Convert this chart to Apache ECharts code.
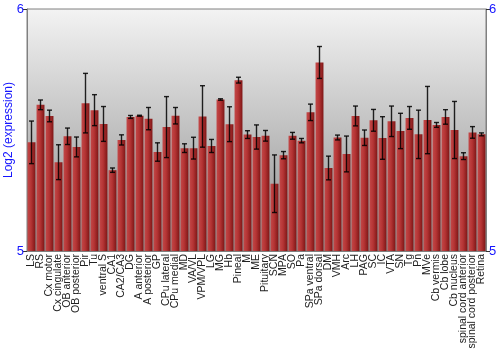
<!DOCTYPE html>
<html>
<head>
<meta charset="utf-8">
<script src="https://cdn.jsdelivr.net/npm/echarts@6/dist/echarts.min.js"></script>
<style>html,body{margin:0;padding:0;background:#fff}#c{width:500px;height:350px}</style>
</head>
<body>
<div id="c"></div>
<script>
const categories = ["LS","RS","Cx motor","Cx cingulate","OB anterior","OB posterior","Pir","Tu","ventral S","CA1","CA2/CA3","DG","A anterior","A posterior","GP","CPu lateral","CPu medial","MD","VA/VL","VPM/VPL","LG","MG","Hb","Pineal","M","ME","Pituitary","SCN","MPA","SO","Pa","SPa ventral","SPa dorsal","DM","VMH","Arc","LH","PAG","SC","IC","VTA","SN","Tg","Pn","MVe","Cb vermis","Cb lobe","Cb nucleus","spinal cord anterior","spinal cord posterior","Retina"];
const values = [5.449,5.604,5.558,5.367,5.474,5.430,5.611,5.582,5.525,5.334,5.459,5.554,5.559,5.547,5.409,5.512,5.559,5.425,5.425,5.556,5.434,5.626,5.524,5.706,5.481,5.471,5.476,5.278,5.396,5.476,5.456,5.573,5.779,5.343,5.469,5.401,5.558,5.468,5.540,5.467,5.536,5.496,5.550,5.482,5.541,5.521,5.554,5.500,5.392,5.490,5.482];
const errors = [0.088,0.020,0.024,0.072,0.034,0.041,0.123,0.064,0.072,0.009,0.021,0.006,0.002,0.046,0.038,0.126,0.034,0.018,0.045,0.127,0.027,0.003,0.072,0.012,0.016,0.050,0.022,0.119,0.015,0.014,0.009,0.034,0.066,0.049,0.010,0.074,0.041,0.032,0.045,0.088,0.063,0.073,0.047,0.100,0.139,0.010,0.030,0.118,0.014,0.024,0.006];
const yTicks = [5, 6];

const chart = echarts.init(document.getElementById('c'), null, {renderer:'canvas'});
const errData = values.map((v,i)=>[i, v - errors[i], v + errors[i]]);
const yAxisCommon = {
  type:'value', min:yTicks[0], max:yTicks[1], interval:1,
  axisLine:{show:true, lineStyle:{color:'#808080', width:1}},
  axisTick:{show:true, length:4, lineStyle:{color:'#333'}},
  splitLine:{show:false},
  axisLabel:{color:'#1515ff', fontSize:13, fontFamily:'Liberation Sans, Arial', margin:3}
};
chart.setOption({
  animation:false,
  grid:{left:27, right:14, top:9, bottom:99, show:true, containLabel:false, outerBoundsMode:'none',
    borderColor:'#808080', borderWidth:1,
    backgroundColor:{type:'linear',x:0,y:0,x2:0,y2:1,colorStops:[{offset:0,color:'#f3f3f3'},{offset:1,color:'#8e8e8e'}]}},
  xAxis:{type:'category', data:categories,
    axisLine:{show:true, lineStyle:{color:'#808080'}},
    axisTick:{show:false},
    axisLabel:{interval:0, rotate:90, fontSize:10.5, color:'#222', fontFamily:'Liberation Sans, Arial', margin:3}},
  yAxis:[
    Object.assign({}, yAxisCommon, {position:'left', name:'Log2 (expression)', nameLocation:'middle', nameGap:12, nameRotate:90,
      nameMoveOverlap:false,
      nameTextStyle:{color:'#1515ff', fontSize:12, fontFamily:'Liberation Sans, Arial'}}),
    Object.assign({}, yAxisCommon, {position:'right'})
  ],
  series:[
    {type:'bar', data:values, barCategoryGap:'12%',
      itemStyle:{color:{type:'linear',x:0,y:0,x2:1,y2:0,colorStops:[
        {offset:0,color:'#c24848'},{offset:0.45,color:'#b53434'},{offset:1,color:'#7e1616'}]}}},
    {type:'custom', data:errData, z:10,
      renderItem:function(params, api){
        const x = api.value(0);
        const lo = api.coord([x, api.value(1)]);
        const hi = api.coord([x, api.value(2)]);
        const cw = 2.5;
        const st = {stroke:'rgba(0,0,0,0.85)', lineWidth:1.4};
        return {type:'group', children:[
          {type:'line', shape:{x1:lo[0], y1:lo[1], x2:hi[0], y2:hi[1]}, style:st},
          {type:'line', shape:{x1:lo[0]-cw, y1:lo[1], x2:lo[0]+cw, y2:lo[1]}, style:st},
          {type:'line', shape:{x1:hi[0]-cw, y1:hi[1], x2:hi[0]+cw, y2:hi[1]}, style:st}
        ]};
      }}
  ]
});
</script>
</body>
</html>
